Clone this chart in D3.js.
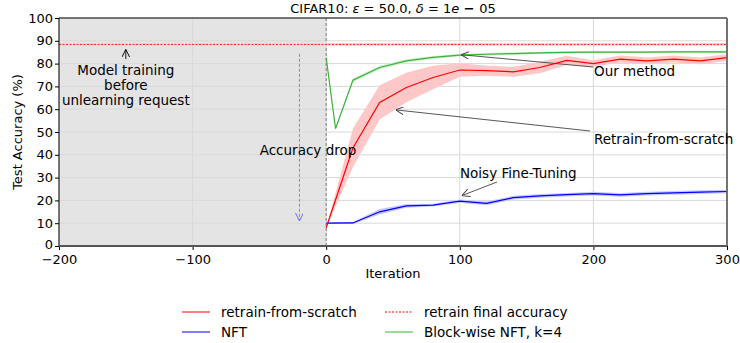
<!DOCTYPE html>
<html>
<head>
<meta charset="utf-8">
<script src="https://cdn.jsdelivr.net/npm/d3@7"></script>
<style>
  body { margin: 0; background: #fff; }
  svg { font-family: 'DejaVu Sans', sans-serif; }
</style>
</head>
<body>
<svg id="chart" width="740" height="343"></svg>
<script>
// iterations for retrain / NFT runs
const iters = [0, 20, 40, 60, 80, 100, 120, 140, 160, 180, 200, 220, 240, 260, 280, 300];
const retrainMean = [8, 43, 63, 69.5, 73.9, 77.2, 76.9, 76.4, 78.3, 81.4, 80, 82, 81.2, 82, 81.2, 82.6];
const retrainStd = [0, 8.5, 7.5, 6.5, 5.2, 3, 2.2, 2.2, 2.5, 2, 1.5, 1.5, 1.5, 1.5, 1.5, 1.5];
const nftMean = [10, 10.1, 15, 17.6, 17.9, 19.7, 18.7, 21.2, 22, 22.5, 23, 22.4, 23, 23.3, 23.6, 23.9];
const nftStd = [0.3, 0.4, 1.2, 0.8, 0.6, 0.7, 0.8, 0.8, 0.8, 0.8, 0.8, 0.8, 0.8, 0.8, 0.8, 0.8];
// block-wise NFT has an extra early evaluation
const blockIters = [0, 7, 20, 40, 60, 80, 100, 120, 140, 160, 180, 200, 220, 240, 260, 280, 300];
const blockMean = [82.5, 51.5, 72.7, 78.3, 81.2, 82.7, 83.7, 84.1, 84.4, 84.7, 84.9, 85, 85, 85, 85.1, 85.1, 85.1];
const blockStd = [0.3, 0.6, 0.8, 0.8, 0.7, 0.6, 0.5, 0.5, 0.5, 0.5, 0.5, 0.5, 0.5, 0.5, 0.5, 0.5, 0.5];
const retrainFinal = 88.4;

const xTicks = [-200, -100, 0, 100, 200, 300];
const yTicks = [0, 10, 20, 30, 40, 50, 60, 70, 80, 90, 100];

const padL = 59, padR = 727, padT = 18, padB = 246; // plot box in px

const svg = d3.select('#chart');

const x = d3.scaleLinear().domain([-200, 300]).range([padL, padR]);
const y = d3.scaleLinear().domain([0, 100]).range([padB, padT]);

// shaded pre-unlearning region
svg.append('rect')
  .attr('x', x(-200)).attr('y', padT)
  .attr('width', x(0) - x(-200)).attr('height', padB - padT)
  .style('fill', '#e4e4e4');

// grid
svg.append('g').selectAll('line').data(yTicks).enter().append('line')
  .attr('x1', padL).attr('x2', padR)
  .attr('y1', d => y(d)).attr('y2', d => y(d))
  .style('stroke', '#d9d9d9').style('stroke-width', 1);
svg.append('g').selectAll('line').data(xTicks).enter().append('line')
  .attr('x1', d => x(d)).attr('x2', d => x(d))
  .attr('y1', padT).attr('y2', padB)
  .style('stroke', '#d9d9d9').style('stroke-width', 1);

// vertical dashed line at unlearning request
svg.append('line')
  .attr('x1', x(0)).attr('x2', x(0)).attr('y1', padT).attr('y2', padB)
  .style('stroke', '#666').style('stroke-width', 0.8).style('stroke-dasharray', '3,2');

// retrain final accuracy
svg.append('rect')
  .attr('x', padL).attr('width', padR - padL)
  .attr('y', y(retrainFinal + 0.6)).attr('height', y(retrainFinal - 0.6) - y(retrainFinal + 0.6))
  .style('fill', '#ffd0d0');
svg.append('line')
  .attr('x1', padL).attr('x2', padR)
  .attr('y1', y(retrainFinal)).attr('y2', y(retrainFinal))
  .style('stroke', '#ff2020').style('stroke-width', 1).style('stroke-dasharray', '2,1.5');

// bands + lines
const area = d3.area().x(d => x(d.i)).y0(d => y(d.m - d.s)).y1(d => y(d.m + d.s));
const line = d3.line().x(d => x(d.i)).y(d => y(d.m));
const series = [
  { xs: iters, m: retrainMean, s: retrainStd, color: '#ff0000', band: '#ffc8c8' },
  { xs: iters, m: nftMean, s: nftStd, color: '#0000ff', band: '#c8c8ff' },
  { xs: blockIters, m: blockMean, s: blockStd, color: '#3bb33b', band: '#cdeccd' },
];
series.forEach(sr => {
  const pts = sr.xs.map((i, k) => ({ i, m: sr.m[k], s: sr.s[k] }));
  svg.append('path').datum(pts).attr('d', area).style('fill', sr.band);
  svg.append('path').datum(pts).attr('d', line)
    .style('fill', 'none').style('stroke', sr.color).style('stroke-width', 1.2);
});

// axes
const fmt = d => (d < 0 ? '\u2212' + Math.abs(d) : String(d));
const xAxis = d3.axisBottom(x).tickValues(xTicks).tickFormat(fmt).tickSize(4).tickPadding(5);
const yAxis = d3.axisLeft(y).tickValues(yTicks).tickSize(4).tickPadding(2);
const gx = svg.append('g').attr('transform', `translate(0, ${padB})`).call(xAxis);
const gy = svg.append('g').attr('transform', `translate(${padL}, 0)`).call(yAxis);
[gx, gy].forEach(g => {
  g.select('.domain').remove();
  g.selectAll('text').style('font-size', '13px').style('fill', '#000')
    .style('font-family', "'DejaVu Sans', sans-serif");
  g.selectAll('line').style('stroke', '#000');
});
// lift the bottom "0" a touch so it clears the x labels
gy.selectAll('.tick').filter(d => d === 0).select('text').attr('dy', '0.2em');

// spines
svg.append('line').attr('x1', padL).attr('x2', padR).attr('y1', padT).attr('y2', padT)
  .style('stroke', '#000').style('stroke-width', 1);
svg.append('line').attr('x1', padL).attr('x2', padL).attr('y1', padT).attr('y2', padB)
  .style('stroke', '#000').style('stroke-width', 1);
svg.append('line').attr('x1', padL).attr('x2', padR).attr('y1', padB).attr('y2', padB)
  .style('stroke', '#555').style('stroke-width', 1.8);
svg.append('line').attr('x1', padR).attr('x2', padR).attr('y1', padT).attr('y2', padB)
  .style('stroke', '#666').style('stroke-width', 1.8);

// title
const title = svg.append('text').attr('x', 393).attr('y', 13).attr('text-anchor', 'middle')
  .style('font-size', '13px');
title.append('tspan').text('CIFAR10: ');
title.append('tspan').style('font-style', 'italic').text('\u03b5');
title.append('tspan').text(' = 50.0, ');
title.append('tspan').style('font-style', 'italic').text('\u03b4');
title.append('tspan').text(' = 1');
title.append('tspan').style('font-style', 'italic').text('e');
title.append('tspan').style('font-weight', 'bold').text(' \u2212 ');
title.append('tspan').text('05');

// axis labels
svg.append('text').attr('x', 393).attr('y', 278).attr('text-anchor', 'middle')
  .style('font-size', '13px').text('Iteration');
svg.append('text').attr('transform', `translate(22, ${(padT + padB) / 2}) rotate(-90)`)
  .attr('text-anchor', 'middle').style('font-size', '13px').text('Test Accuracy (%)');

// arrow markers
const defs = svg.append('defs');
const marker = (id, color) => defs.append('marker').attr('id', id)
  .attr('viewBox', '0 0 10 10').attr('refX', 10).attr('refY', 5)
  .attr('markerWidth', 8).attr('markerHeight', 8).attr('markerUnits', 'userSpaceOnUse')
  .attr('orient', 'auto')
  .append('path').attr('d', 'M0,0 L10,5 L0,10').style('fill', 'none')
  .style('stroke', color).style('stroke-width', 1.2);
marker('arrBlack', '#000');
marker('arrGray', '#444');
marker('arrBlue', '#6666ff');

const arrow = (x1, y1, x2, y2, color, id, dash) => svg.append('line')
  .attr('x1', x1).attr('y1', y1).attr('x2', x2).attr('y2', y2)
  .style('stroke', color).style('stroke-width', 0.9)
  .style('stroke-dasharray', dash || null)
  .attr('marker-end', `url(#${id})`);

const annoSize = '13.5px';

// Model training annotation
arrow(x(-150), 59, x(-150), y(86.2), '#000', 'arrBlack');
svg.append('text').attr('x', x(-150)).attr('y', 75).attr('text-anchor', 'middle')
  .style('font-size', annoSize).selectAll('tspan')
  .data(['Model training', 'before', 'unlearning request']).enter().append('tspan')
  .attr('x', x(-150)).attr('dy', (d, i) => (i === 0 ? 0 : 15)).text(d => d);

// Accuracy drop
arrow(x(-20), y(84.3), x(-20), y(11), '#7777ff', 'arrBlue', '3,2');
svg.append('text').attr('x', 308).attr('y', 155).attr('text-anchor', 'middle')
  .style('font-size', annoSize).text('Accuracy drop');

// Our method
arrow(593, 67, x(101), y(83.9), '#444', 'arrGray');
svg.append('text').attr('x', 594).attr('y', 76).style('font-size', annoSize).text('Our method');

// Retrain-from-scratch
arrow(590, 131, x(52), y(59.7), '#444', 'arrGray');
svg.append('text').attr('x', 594).attr('y', 144).style('font-size', annoSize).text('Retrain-from-scratch');

// Noisy Fine-Tuning
arrow(497, 182, x(101.5), y(22.1), '#444', 'arrGray');
svg.append('text').attr('x', 460).attr('y', 178).style('font-size', annoSize).text('Noisy Fine-Tuning');

// legend
const legendItems = [
  { label: 'retrain-from-scratch', color: '#ff0000', dash: null, col: 0, row: 0 },
  { label: 'NFT', color: '#0000ff', dash: null, col: 0, row: 1 },
  { label: 'retrain final accuracy', color: '#ff0000', dash: '2,1.5', col: 1, row: 0 },
  { label: 'Block-wise NFT, k=4', color: '#3bb33b', dash: null, col: 1, row: 1 },
];
const colX = [182, 385];
legendItems.forEach(it => {
  const lx = colX[it.col], ly = 312 + it.row * 20;
  svg.append('line').attr('x1', lx).attr('x2', lx + 28).attr('y1', ly).attr('y2', ly)
    .style('stroke', it.color).style('stroke-width', 1)
    .style('stroke-dasharray', it.dash);
  svg.append('text').attr('x', lx + 39).attr('y', ly + 4.5)
    .style('font-size', annoSize).text(it.label);
});
</script>
</body>
</html>
